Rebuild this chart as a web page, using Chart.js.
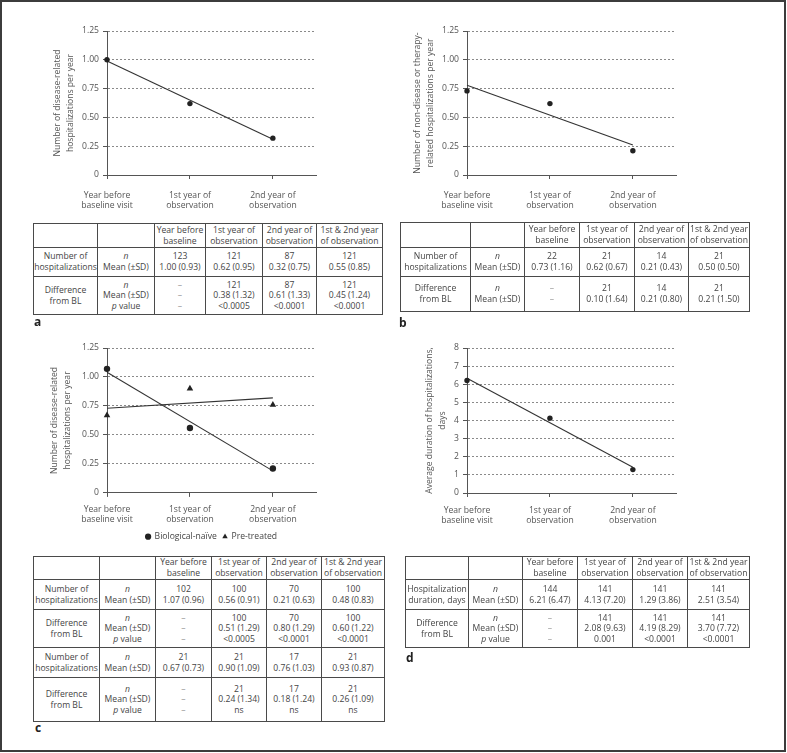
<!DOCTYPE html>
<html>
<head>
<meta charset="utf-8">
<script src="https://cdn.jsdelivr.net/npm/chart.js@4/dist/chart.umd.min.js"></script>
<style>
  html, body { margin: 0; padding: 0; background: #fff; }
  #wrap { position: relative; width: 787px; height: 753px; overflow: hidden; background: #fff; }
  #frame { position: absolute; left: 0; top: 0; width: 786px; height: 752px; box-sizing: border-box; border: 2px solid #3c3c3c; pointer-events: none; }
  canvas { position: absolute; }
  table { position: absolute; border-collapse: collapse; table-layout: fixed; font-family: 'Open Sans', sans-serif; font-size: 8.6px; color: #444; }
  td { border: 1px solid #4a4a4a; padding: 0; text-align: center; vertical-align: middle; line-height: 10.6px; white-space: nowrap; overflow: visible; }
  .dash { color: #999; }
  .lab { position: absolute; font-family: 'Open Sans', sans-serif; font-weight: 700; font-size: 12px; color: #222; }
</style>
</head>
<body>
<div id="wrap">
  <canvas id="ca" width="390" height="215" style="left:0;top:0"></canvas>
  <canvas id="cb" width="390" height="215" style="left:360px;top:0"></canvas>
  <canvas id="cc" width="390" height="234" style="left:0;top:317px"></canvas>
  <canvas id="cd" width="390" height="231" style="left:360px;top:317px"></canvas>
  <div id="tables"></div>
  <div class="lab" style="left:34px;top:313px">a</div>
  <div class="lab" style="left:399px;top:314px">b</div>
  <div class="lab" style="left:35px;top:719px">c</div>
  <div class="lab" style="left:406px;top:649px">d</div>
  <div id="frame"></div>
</div>
<script>
// ---------- chart data ----------
const categories = [['Year before', 'baseline visit'], ['1st year of', 'observation'], ['2nd year of', 'observation']];
const aValues = [1.00, 0.62, 0.32];
const aTrend = [0.99, 0.31];
const bValues = [0.73, 0.62, 0.21];
const bTrend = [0.78, 0.26];
const cNaive = [1.07, 0.56, 0.21];
const cNaiveTrend = [1.04, 0.19];
const cPre = [0.67, 0.90, 0.76];
const cPreTrend = [0.73, 0.82];
const dValues = [6.21, 4.13, 1.29];
const dTrend = [6.33, 1.42];
const yTicksRate = [0, 0.25, 0.50, 0.75, 1.00, 1.25];
const yTicksDays = [0, 1, 2, 3, 4, 5, 6, 7, 8];

// ---------- table data ----------
const tableHeader = [['Year before', 'baseline'], ['1st year of', 'observation'], ['2nd year of', 'observation'], ['1st & 2nd year', 'of observation']];
const aCounts = ['123', '121', '87', '121'];
const aMeans = ['1.00 (0.93)', '0.62 (0.95)', '0.32 (0.75)', '0.55 (0.85)'];
const aDiffN = ['–', '121', '87', '121'];
const aDiffMean = ['–', '0.38 (1.32)', '0.61 (1.33)', '0.45 (1.24)'];
const aDiffP = ['–', '<0.0005', '<0.0001', '<0.0001'];
const bCounts = ['22', '21', '14', '21'];
const bMeans = ['0.73 (1.16)', '0.62 (0.67)', '0.21 (0.43)', '0.50 (0.50)'];
const bDiffN = ['–', '21', '14', '21'];
const bDiffMean = ['–', '0.10 (1.64)', '0.21 (0.80)', '0.21 (1.50)'];
const cNaiveCounts = ['102', '100', '70', '100'];
const cNaiveMeans = ['1.07 (0.96)', '0.56 (0.91)', '0.21 (0.63)', '0.48 (0.83)'];
const cNaiveDiffN = ['–', '100', '70', '100'];
const cNaiveDiffMean = ['–', '0.51 (1.29)', '0.80 (1.29)', '0.60 (1.22)'];
const cNaiveDiffP = ['–', '<0.0005', '<0.0001', '<0.0001'];
const cPreCounts = ['21', '21', '17', '21'];
const cPreMeans = ['0.67 (0.73)', '0.90 (1.09)', '0.76 (1.03)', '0.93 (0.87)'];
const cPreDiffN = ['–', '21', '17', '21'];
const cPreDiffMean = ['–', '0.24 (1.34)', '0.18 (1.24)', '0.26 (1.09)'];
const cPreDiffP = ['–', 'ns', 'ns', 'ns'];
const dCounts = ['144', '141', '141', '141'];
const dMeans = ['6.21 (6.47)', '4.13 (7.20)', '1.29 (3.86)', '2.51 (3.54)'];
const dDiffN = ['–', '141', '141', '141'];
const dDiffMean = ['–', '2.08 (9.63)', '4.19 (8.29)', '3.70 (7.72)'];
const dDiffP = ['–', '0.001', '<0.0001', '<0.0001'];

// ---------- charts ----------
const FONT = { family: "'Open Sans', sans-serif", size: 8.6 };
const TXT = '#555';
const AXIS = '#555';

function pts(vals) { return vals.map((v, i) => ({ x: i, y: v })); }
function trend(t) { return [{ x: 0, y: t[0] }, { x: 2, y: t[1] }]; }

function makeChart(id, opt) {
  const datasets = [];
  opt.series.forEach(s => {
    datasets.push({
      label: s.label, data: pts(s.values), showLine: false, clip: false,
      pointStyle: s.style || 'circle', pointRadius: s.radius || 2.7,
      backgroundColor: '#222', borderColor: '#222', borderWidth: 0
    });
    datasets.push({
      label: '', data: trend(s.trend), showLine: true, pointRadius: 0, clip: false,
      borderColor: '#333', borderWidth: 1.1, fill: false
    });
  });
  new Chart(document.getElementById(id), {
    type: 'scatter',
    data: { datasets },
    options: {
      responsive: false, animation: false,
      layout: { padding: { left: 0, top: 31, right: 74, bottom: 0 } },
      plugins: {
        tooltip: { enabled: false },
        legend: opt.legend ? {
          display: true, position: 'bottom', fullSize: false,
          labels: {
            usePointStyle: true, boxHeight: 4.4, boxWidth: 4.4, padding: 6,
            color: '#444', font: FONT,
            filter: (item) => item.text !== ''
          }
        } : { display: false }
      },
      scales: {
        x: {
          type: 'linear', min: 0, max: 2.52,
          afterBuildTicks: (s) => { s.ticks = [{ value: 0 }, { value: 1 }, { value: 2 }]; },
          afterFit: (s) => { s.height = opt.xHeight; },
          ticks: {
            color: TXT, font: FONT, padding: opt.xPad, maxRotation: 0, autoSkip: false,
            callback: (v) => categories[v]
          },
          grid: { drawOnChartArea: false, drawTicks: true, tickLength: 4, tickColor: AXIS, tickWidth: 1 },
          border: { color: AXIS, width: 1 }
        },
        y: {
          min: 0, max: opt.yMax,
          afterBuildTicks: (s) => { s.ticks = opt.yTicks.map(v => ({ value: v })); },
          afterFit: (s) => { s.width = 107; },
          ticks: {
            color: TXT, font: FONT, padding: 4,
            callback: opt.yFmt
          },
          grid: {
            color: '#8a8a8a', lineWidth: 1,
            drawTicks: true, tickLength: 4, tickColor: AXIS, tickBorderDash: [], tickWidth: 1
          },
          border: { color: AXIS, width: 1, dash: [2, 2] },
          title: {
            display: true, text: opt.yTitle, color: TXT,
            font: { family: FONT.family, size: 8.6, lineHeight: 1.4 },
            padding: { top: opt.titlePad, bottom: 0 }
          }
        }
      }
    }
  });
}

const rateFmt = (v) => v === 0 ? '0' : v.toFixed(2);
const dayFmt = (v) => String(v);

makeChart('ca', {
  series: [{ label: 'a', values: aValues, trend: aTrend }],
  yMax: 1.25, yTicks: yTicksRate, yFmt: rateFmt, xHeight: 40, xPad: 11,
  yTitle: ['Number of disease-related', 'hospitalizations per year'], titlePad: 52
});
makeChart('cb', {
  series: [{ label: 'b', values: bValues, trend: bTrend }],
  yMax: 1.25, yTicks: yTicksRate, yFmt: rateFmt, xHeight: 40, xPad: 11,
  yTitle: ['Number of non-disease or therapy-', 'related hospitalizations per year'], titlePad: 52
});
makeChart('cc', {
  series: [
    { label: 'Biological-naïve', values: cNaive, trend: cNaiveTrend, radius: 3.2 },
    { label: 'Pre-treated', values: cPre, trend: cPreTrend, style: 'triangle', radius: 3.8 }
  ],
  legend: true,
  yMax: 1.25, yTicks: yTicksRate, yFmt: rateFmt, xHeight: 33.5, xPad: 7,
  yTitle: ['Number of disease-related', 'hospitalizations per year'], titlePad: 49
});
makeChart('cd', {
  series: [{ label: 'd', values: dValues, trend: dTrend }],
  yMax: 8, yTicks: yTicksDays, yFmt: dayFmt, xHeight: 55, xPad: 8,
  yTitle: ['Average duration of hospitalizations,', 'days'], titlePad: 64
});

// ---------- tables ----------
function cellHtml(lines) {
  return lines.map(l => l === '–' ? '<span class="dash">–</span>' : l.replace(/</g, '&lt;').replace('&lt;i>', '<i>').replace('&lt;/i>', '</i>')).join('<br>');
}
function makeTable(spec) {
  const t = document.createElement('table');
  t.style.left = spec.left + 'px';
  t.style.top = spec.top + 'px';
  const total = spec.cols.reduce((a, b) => a + b, 0);
  t.style.width = total + 'px';
  let html = '<colgroup>' + spec.cols.map(w => '<col style="width:' + w + 'px">').join('') + '</colgroup>';
  html += '<tr style="height:' + spec.rows[0] + 'px"><td></td><td></td>' +
    tableHeader.map(h => '<td>' + cellHtml(h) + '</td>').join('') + '</tr>';
  spec.blocks.forEach((b, bi) => {
    html += '<tr style="height:' + spec.rows[bi + 1] + 'px"><td>' + cellHtml(b.label) + '</td><td>' +
      b.stats.join('<br>') + '</td>';
    for (let c = 0; c < 4; c++) {
      html += '<td>' + cellHtml(b.values.map(arr => arr[c])) + '</td>';
    }
    html += '</tr>';
  });
  t.innerHTML = html;
  document.getElementById('tables').appendChild(t);
}
const numHosp = ['Number of', 'hospitalizations'];
const diffBL = ['Difference', 'from BL'];
const st2 = ['<i>n</i>', 'Mean (±SD)'];
const st3 = ['<i>n</i>', 'Mean (±SD)', '<i>p</i> value'];

makeTable({
  left: 33, top: 223, cols: [64, 57, 51, 57, 54, 66], rows: [24, 29, 38],
  blocks: [
    { label: numHosp, stats: st2, values: [aCounts, aMeans] },
    { label: diffBL, stats: st3, values: [aDiffN, aDiffMean, aDiffP] }
  ]
});
makeTable({
  left: 400, top: 222, cols: [70, 54, 55, 55, 54, 61], rows: [25, 29, 35],
  blocks: [
    { label: numHosp, stats: st2, values: [bCounts, bMeans] },
    { label: diffBL, stats: st2, values: [bDiffN, bDiffMean] }
  ]
});
makeTable({
  left: 33, top: 556, cols: [66, 56, 56, 55, 55, 63], rows: [23, 30, 38, 30, 44],
  blocks: [
    { label: numHosp, stats: st2, values: [cNaiveCounts, cNaiveMeans] },
    { label: diffBL, stats: st3, values: [cNaiveDiffN, cNaiveDiffMean, cNaiveDiffP] },
    { label: numHosp, stats: st2, values: [cPreCounts, cPreMeans] },
    { label: diffBL, stats: st3, values: [cPreDiffN, cPreDiffMean, cPreDiffP] }
  ]
});
makeTable({
  left: 405, top: 556, cols: [63, 54, 55, 55, 55, 62], rows: [23, 30, 38],
  blocks: [
    { label: ['Hospitalization', 'duration, days'], stats: st2, values: [dCounts, dMeans] },
    { label: diffBL, stats: st3, values: [dDiffN, dDiffMean, dDiffP] }
  ]
});
</script>
</body>
</html>
